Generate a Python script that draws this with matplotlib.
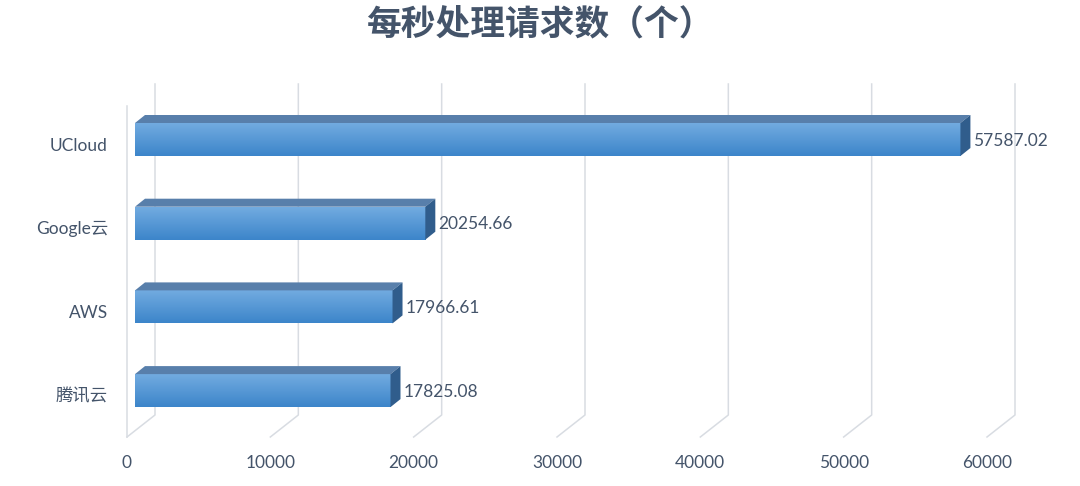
import numpy as np
import matplotlib.pyplot as plt
from matplotlib.patches import Polygon
from matplotlib.colors import LinearSegmentedColormap

# 数据
categories = ["UCloud", "Google云", "AWS", "腾讯云"]
values = [57587.02, 20254.66, 17966.61, 17825.08]
value_labels = ["57587.02", "20254.66", "17966.61", "17825.08"]
ticks = [0, 10000, 20000, 30000, 40000, 50000, 60000]
title = "每秒处理请求数（个）"

W, H = 1080, 486
TEXT = "#44546a"
GRID = "#d8dce2"
FONT = ["Lato", "Noto Sans CJK SC"]

fig = plt.figure(figsize=(W / 100, H / 100), dpi=100)
ax = fig.add_axes([0, 0, 1, 1])
ax.axis("off")

# x 轴用数值单位, y 轴用像素 (上小下大)
x_front0, x_front60 = 127, 987
PX = ticks[-1] / (x_front60 - x_front0)  # 每像素对应的数值
ax.set_xlim(-x_front0 * PX, (W - x_front0) * PX)
ax.set_ylim(H, 0)

# 伪 3D 网格线 (墙面深度)
depth_x, depth_y = 28 * PX, 22
floor_y, top_y = 437, 84
for t in ticks:
    ax.plot([t, t + depth_x, t + depth_x], [floor_y, floor_y - depth_y, top_y],
            color=GRID, lw=1.1, zorder=1)
    ax.text(t, 463, str(t), ha="center", va="center", fontsize=12.5,
            color=TEXT, family=FONT)
ax.plot([0, 0], [floor_y, top_y + depth_y], color=GRID, lw=1.1, zorder=1)

# 条形
bar_h = 33
y_centers = [139.5 + i * 83.7 for i in range(len(categories))]
x_start = 8 * PX
dx, dy = 10 * PX, 8
cmap = LinearSegmentedColormap.from_list("front", ["#72abe0", "#3c85ca"])
grad = np.linspace(1, 0, 100).reshape(-1, 1)

bars = ax.barh(y_centers, values, height=bar_h, left=x_start,
               color="#4f93d4", edgecolor="none", zorder=3)
for bar, yc, val, lab, cat in zip(bars, y_centers, values, value_labels, categories):
    x0 = bar.get_x()
    x1 = x0 + bar.get_width()
    yt, yb = yc - bar_h / 2, yc + bar_h / 2
    im = ax.imshow(grad, extent=(x0, x1, yb, yt), origin="lower", aspect="auto",
                   cmap=cmap, vmin=0, vmax=1, zorder=3.5)
    im.set_clip_path(bar)
    top = Polygon([(x0, yt), (x1, yt), (x1 + dx, yt - dy), (x0 + dx, yt - dy)],
                  closed=True, facecolor="#587fab", edgecolor="none", zorder=4)
    side = Polygon([(x1, yt), (x1 + dx, yt - dy), (x1 + dx, yb - dy), (x1, yb)],
                   closed=True, facecolor="#305d8c", edgecolor="none", zorder=4)
    ax.add_patch(top)
    ax.add_patch(side)
    ax.text(x1 + dx + 3 * PX, yc + 1, lab, ha="left", va="center",
            fontsize=12.5, color=TEXT, family=FONT, zorder=5)
    ax.text(-19 * PX, yc + 6, cat, ha="right", va="center",
            fontsize=12.5, color=TEXT, family=FONT)

ax.set_xlim(-x_front0 * PX, (W - x_front0) * PX)
ax.set_ylim(H, 0)

fig.text(0.5, 1 - 24 / H, title, ha="center", va="center", fontsize=25,
         fontweight="bold", color=TEXT, family=["Noto Sans CJK SC", "DejaVu Sans"])

fig.savefig("out.png", dpi=100)
